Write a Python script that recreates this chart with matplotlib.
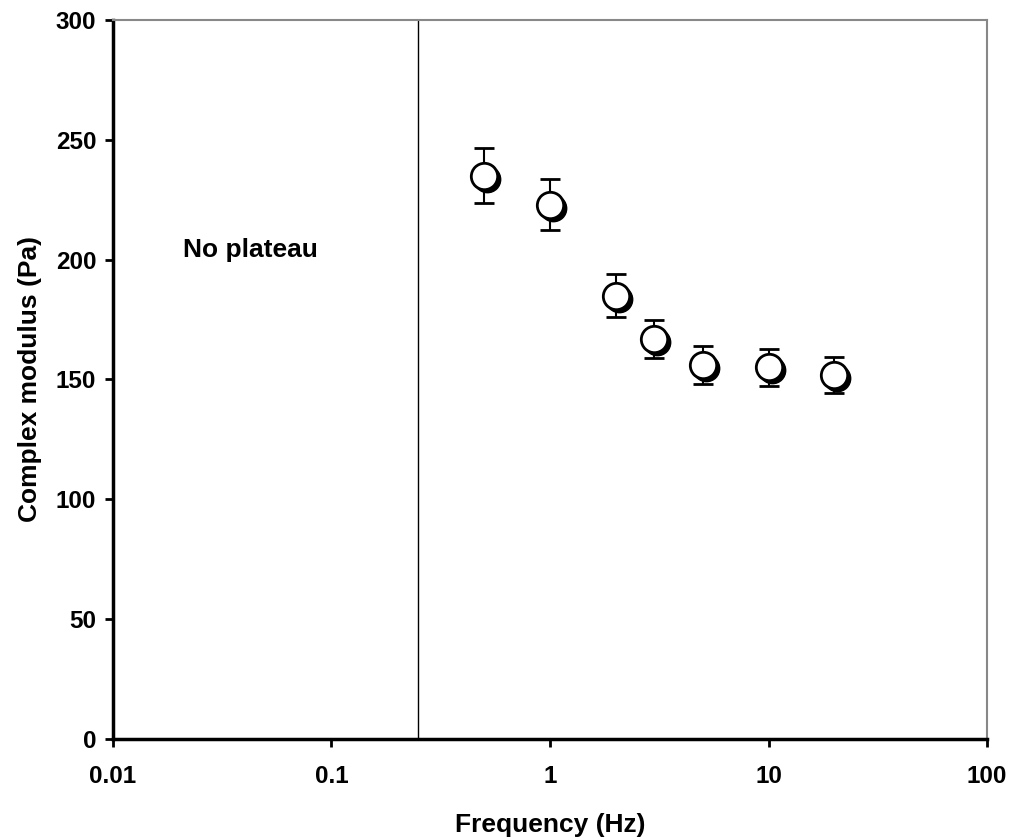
import matplotlib
matplotlib.use("Agg")
import matplotlib.pyplot as plt
import matplotlib.transforms as mtransforms
import numpy as np

plt.rcParams['font.family'] = ['Liberation Sans', 'DejaVu Sans']
plt.rcParams['font.weight'] = 'bold'

# data
freq = [0.5, 1, 2, 3, 5, 10, 20]
modulus = [235, 223, 185, 167, 156, 155, 152]
err = [11.5, 10.7, 9.0, 8.0, 7.8, 7.8, 7.5]
plateau_limit = 0.25

x_ticks = [0.01, 0.1, 1, 10, 100]
x_ticklabels = ['0.01', '0.1', '1', '10', '100']
y_ticks = [0, 50, 100, 150, 200, 250, 300]

fig = plt.figure(figsize=(10.14, 8.39), dpi=100)
ax = fig.add_axes([0.1114, 0.1192, 0.862, 0.857])

ax.set_xscale('log')
ax.set_xlim(0.01, 100)
ax.set_ylim(0, 300)

# shadow markers, shifted a few pixels right and down
shadow = mtransforms.offset_copy(ax.transData, fig=fig, x=3, y=-3, units='dots')
ax.plot(freq, modulus, 'o', ms=19, color='black', transform=shadow, zorder=3)

ax.errorbar(freq, modulus, yerr=err, fmt='o', ms=19, mfc='white', mec='black',
            mew=2, ecolor='black', elinewidth=1.5, capsize=7.5, capthick=1.5,
            zorder=4)

ax.axvline(plateau_limit, color='black', lw=1, zorder=2)
ax.text(0.021, 204, 'No plateau', fontsize=19, fontweight='bold', va='center', ha='left')

ax.set_xticks(x_ticks)
ax.set_xticklabels(x_ticklabels)
ax.set_yticks(y_ticks)
ax.xaxis.set_minor_locator(matplotlib.ticker.NullLocator())
ax.tick_params(axis='both', which='major', direction='out', length=6, width=2,
               labelsize=17.5)
ax.tick_params(axis='x', pad=13)
ax.tick_params(axis='y', pad=6)

for s in ['left', 'bottom']:
    ax.spines[s].set_linewidth(2.5)
    ax.spines[s].set_color('black')
for s in ['top', 'right']:
    ax.spines[s].set_linewidth(1.5)
    ax.spines[s].set_color('#888888')

ax.set_xlabel('Frequency (Hz)', fontsize=19, fontweight='bold', labelpad=18)
ax.set_ylabel('Complex modulus (Pa)', fontsize=19, fontweight='bold', labelpad=10)

fig.savefig('out.png', dpi=100)
